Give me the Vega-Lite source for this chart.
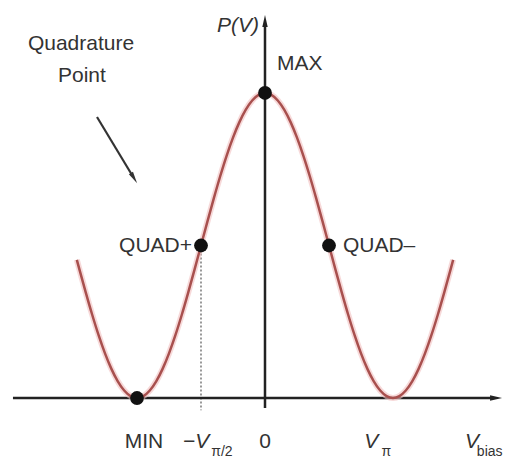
{
  "$schema": "https://vega.github.io/schema/vega-lite/v6.json",
  "width": 505,
  "height": 463,
  "padding": 0,
  "autosize": {"type": "none"},
  "background": "white",
  "config": {"view": {"stroke": null}, "text": {"font": "Liberation Sans"}},
  "datasets": {
    "curve": [
      {"v": -1.47, "p": 0.4530}, {"v": -1.45, "p": 0.4218}, {"v": -1.4, "p": 0.3455}, {"v": -1.35, "p": 0.2730},
      {"v": -1.3, "p": 0.2061}, {"v": -1.25, "p": 0.1464}, {"v": -1.2, "p": 0.0955}, {"v": -1.15, "p": 0.0545},
      {"v": -1.1, "p": 0.0245}, {"v": -1.05, "p": 0.0061}, {"v": -1.0, "p": 0.0}, {"v": -0.95, "p": 0.0061},
      {"v": -0.9, "p": 0.0245}, {"v": -0.85, "p": 0.0545}, {"v": -0.8, "p": 0.0955}, {"v": -0.75, "p": 0.1464},
      {"v": -0.7, "p": 0.2061}, {"v": -0.65, "p": 0.2730}, {"v": -0.6, "p": 0.3455}, {"v": -0.55, "p": 0.4218},
      {"v": -0.5, "p": 0.5}, {"v": -0.45, "p": 0.5782}, {"v": -0.4, "p": 0.6545}, {"v": -0.35, "p": 0.7270},
      {"v": -0.3, "p": 0.7939}, {"v": -0.25, "p": 0.8536}, {"v": -0.2, "p": 0.9045}, {"v": -0.15, "p": 0.9455},
      {"v": -0.1, "p": 0.9755}, {"v": -0.05, "p": 0.9939}, {"v": 0.0, "p": 1.0}, {"v": 0.05, "p": 0.9939},
      {"v": 0.1, "p": 0.9755}, {"v": 0.15, "p": 0.9455}, {"v": 0.2, "p": 0.9045}, {"v": 0.25, "p": 0.8536},
      {"v": 0.3, "p": 0.7939}, {"v": 0.35, "p": 0.7270}, {"v": 0.4, "p": 0.6545}, {"v": 0.45, "p": 0.5782},
      {"v": 0.5, "p": 0.5}, {"v": 0.55, "p": 0.4218}, {"v": 0.6, "p": 0.3455}, {"v": 0.65, "p": 0.2730},
      {"v": 0.7, "p": 0.2061}, {"v": 0.75, "p": 0.1464}, {"v": 0.8, "p": 0.0955}, {"v": 0.85, "p": 0.0545},
      {"v": 0.9, "p": 0.0245}, {"v": 0.95, "p": 0.0061}, {"v": 1.0, "p": 0.0}, {"v": 1.05, "p": 0.0061},
      {"v": 1.1, "p": 0.0245}, {"v": 1.15, "p": 0.0545}, {"v": 1.2, "p": 0.0955}, {"v": 1.25, "p": 0.1464},
      {"v": 1.3, "p": 0.2061}, {"v": 1.35, "p": 0.2730}, {"v": 1.4, "p": 0.3455}, {"v": 1.45, "p": 0.4218},
      {"v": 1.47, "p": 0.4530}
    ],
    "dots": [
      {"name": "MAX", "v": 0, "p": 1},
      {"name": "QUAD+", "v": -0.5, "p": 0.5},
      {"name": "QUAD-", "v": 0.5, "p": 0.5},
      {"name": "MIN", "v": -1, "p": 0}
    ],
    "axes": [
      {"axis": "Vbias", "v": -1.969, "p": 0, "v2": 1.78, "p2": 0},
      {"axis": "P(V)", "v": 0, "p": -0.033, "v2": 0, "p2": 1.225}
    ],
    "guide": [
      {"v": -0.5, "p": 0.5, "v2": -0.5, "p2": -0.04}
    ],
    "pointer": [
      {"v": -1.3125, "p": 0.9213, "v2": -1.039, "p2": 0.731}
    ],
    "pointerHead": [
      {"v": -1.0234, "p": 0.721}
    ],
    "headUp": [{"v": 0, "p": 1.236}],
    "headRight": [{"v": 1.805, "p": 0}],
    "labelsCenter": [
      {"label": "Quadrature", "v": -1.4375, "p": 1.161},
      {"label": "Point", "v": -1.43, "p": 1.056},
      {"label": "MIN", "v": -0.945, "p": -0.144},
      {"label": "0", "v": 0, "p": -0.144}
    ],
    "labelsLeft": [
      {"label": "MAX", "v": 0.094, "p": 1.095},
      {"label": "QUAD–", "v": 0.609, "p": 0.498}
    ],
    "labelsRight": [
      {"label": "QUAD+", "v": -0.57, "p": 0.498}
    ],
    "labelsItalic": [
      {"label": "−V", "v": -0.64, "p": -0.144},
      {"label": "V", "v": 0.775, "p": -0.144},
      {"label": "V", "v": 1.5625, "p": -0.144}
    ],
    "subscripts": [
      {"label": "π/2", "v": -0.42, "p": -0.177},
      {"label": "π", "v": 0.91, "p": -0.177},
      {"label": "bias", "v": 1.655, "p": -0.177}
    ],
    "yTitle": [
      {"label": "P(V)", "v": -0.047, "p": 1.22}
    ]
  },
  "encoding": {
    "x": {"field": "v", "type": "quantitative", "axis": null,
          "scale": {"domain": [-2.0703, 1.875], "nice": false, "zero": false}},
    "y": {"field": "p", "type": "quantitative", "axis": null,
          "scale": {"domain": [-0.2131, 1.3049], "nice": false, "zero": false}}
  },
  "layer": [
    {
      "data": {"name": "guide"},
      "mark": {"type": "rule", "color": "#555555", "strokeWidth": 1.2, "strokeDash": [2, 2]},
      "encoding": {"x2": {"field": "v2"}, "y2": {"field": "p2"}}
    },
    {
      "data": {"name": "axes"},
      "mark": {"type": "rule", "color": "#222222", "strokeWidth": 2.5},
      "encoding": {"x2": {"field": "v2"}, "y2": {"field": "p2"}}
    },
    {
      "data": {"name": "headUp"},
      "mark": {"type": "point", "shape": "M0,-1L0.45,1L-0.45,1Z", "size": 144, "filled": true, "color": "#222222", "opacity": 1}
    },
    {
      "data": {"name": "headRight"},
      "mark": {"type": "point", "shape": "M1,0L-1,0.45L-1,-0.45Z", "size": 144, "filled": true, "color": "#222222", "opacity": 1}
    },
    {
      "data": {"name": "curve"},
      "mark": {"type": "line", "color": "#f2c0c0", "strokeWidth": 6, "opacity": 0.6, "interpolate": "monotone"}
    },
    {
      "data": {"name": "curve"},
      "mark": {"type": "line", "color": "#a8504e", "strokeWidth": 2.5, "interpolate": "monotone"}
    },
    {
      "data": {"name": "dots"},
      "mark": {"type": "point", "shape": "circle", "size": 190, "filled": true, "color": "#111111", "opacity": 1}
    },
    {
      "data": {"name": "pointer"},
      "mark": {"type": "rule", "color": "#333333", "strokeWidth": 2.2},
      "encoding": {"x2": {"field": "v2"}, "y2": {"field": "p2"}}
    },
    {
      "data": {"name": "pointerHead"},
      "mark": {"type": "point", "shape": "M0,-1L0.4,1L-0.4,1Z", "size": 144, "angle": 149, "filled": true, "color": "#333333", "opacity": 1}
    },
    {
      "data": {"name": "labelsCenter"},
      "mark": {"type": "text", "align": "center", "baseline": "middle", "fontSize": 21, "color": "#333333"},
      "encoding": {"text": {"field": "label"}}
    },
    {
      "data": {"name": "labelsLeft"},
      "mark": {"type": "text", "align": "left", "baseline": "middle", "fontSize": 21, "color": "#333333"},
      "encoding": {"text": {"field": "label"}}
    },
    {
      "data": {"name": "labelsRight"},
      "mark": {"type": "text", "align": "right", "baseline": "middle", "fontSize": 21, "color": "#333333"},
      "encoding": {"text": {"field": "label"}}
    },
    {
      "data": {"name": "labelsItalic"},
      "mark": {"type": "text", "align": "left", "baseline": "middle", "fontStyle": "italic", "fontSize": 21, "color": "#333333"},
      "encoding": {"text": {"field": "label"}}
    },
    {
      "data": {"name": "subscripts"},
      "mark": {"type": "text", "align": "left", "baseline": "middle", "fontSize": 14, "color": "#333333"},
      "encoding": {"text": {"field": "label"}}
    },
    {
      "data": {"name": "yTitle"},
      "mark": {"type": "text", "align": "right", "baseline": "middle", "fontStyle": "italic", "fontSize": 21, "color": "#333333"},
      "encoding": {"text": {"field": "label"}}
    }
  ]
}
